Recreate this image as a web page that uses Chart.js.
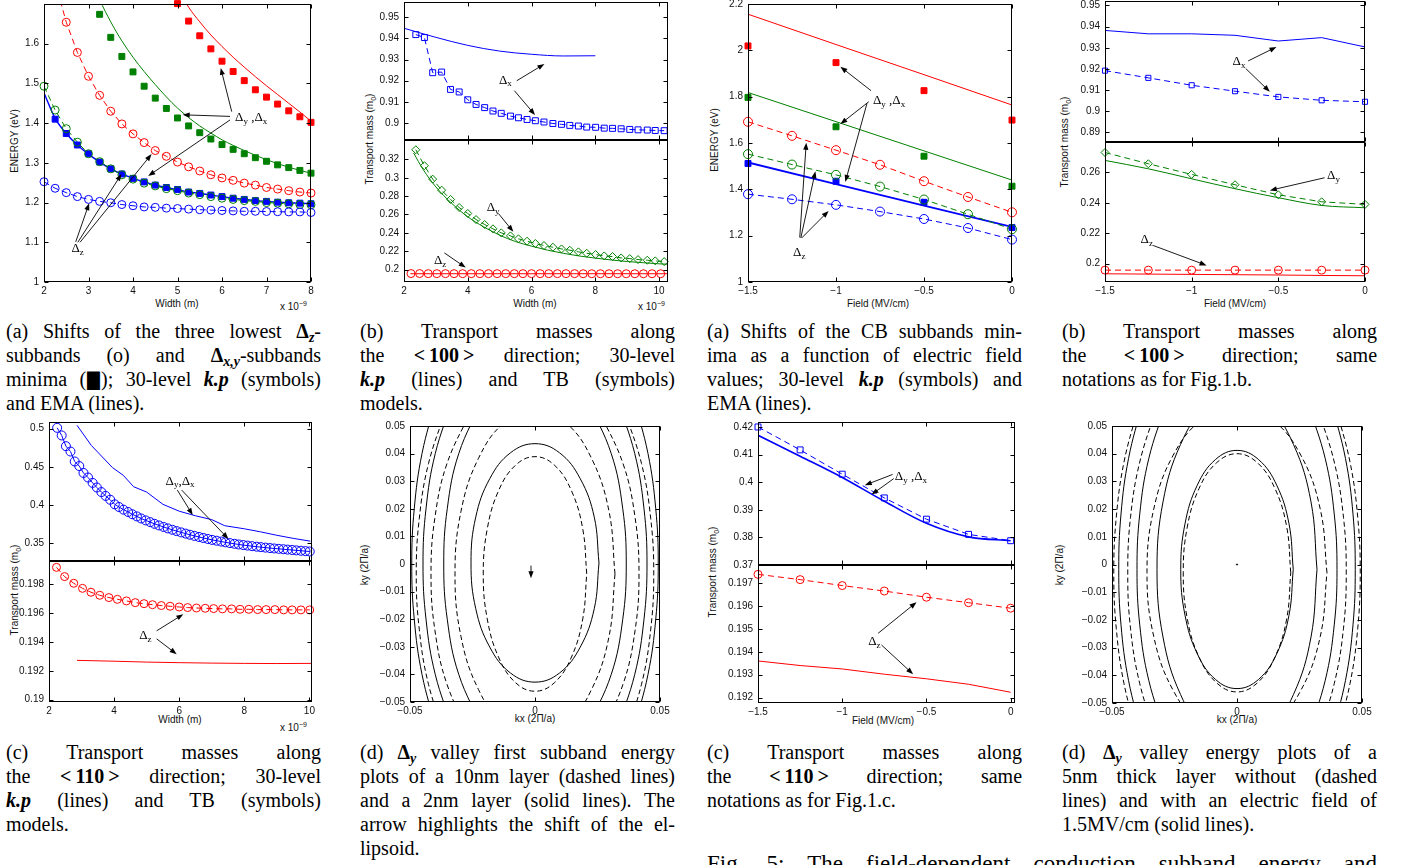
<!DOCTYPE html>
<html>
<head>
<meta charset="utf-8">
<script src="https://cdn.jsdelivr.net/npm/chart.js@4.4.1/dist/chart.umd.min.js"></script>
<style>
  html, body { margin: 0; padding: 0; background: #fff; }
  body { position: relative; width: 1403px; height: 865px; overflow: hidden; font-family: "Liberation Serif", "Times New Roman", serif; }
  canvas { position: absolute; }
  .ax { position: absolute; font: 10px "Liberation Sans", Arial, sans-serif; color: #111; white-space: nowrap; line-height: 1; }
  .ax.v { transform: translate(-50%, -50%) rotate(-90deg); }
  .ax.h { transform: translate(-50%, -50%); }
  .ax sub, .ax sup { font-size: 7px; line-height: 0; }
  .cap { position: absolute; width: 315px; font-size: 20px; line-height: 24px; color: #000; }
  .cap div { text-align: justify; text-align-last: justify; }
  .cap div.end { text-align-last: left; }
  .cap sub { font-size: 70%; line-height: 0; vertical-align: -0.3em; }
  .blk { font-family: "DejaVu Sans", sans-serif; display: inline-block; margin: 0 -2px; transform: scale(0.85, 1.2); }
</style>
</head>
<body>

<!-- axis titles -->
<div class="ax v" style="left:15px;top:141px">ENERGY (eV)</div>
<div class="ax h" style="left:177px;top:304px">Width (m)</div>
<div class="ax" style="left:280px;top:302px">x 10<sup>−9</sup></div>

<div class="ax v" style="left:370px;top:139px">Transport mass (m<sub>0</sub>)</div>
<div class="ax h" style="left:535px;top:304px">Width (m)</div>
<div class="ax" style="left:638px;top:302px">x 10<sup>−9</sup></div>

<div class="ax v" style="left:715px;top:140px">ENERGY (eV)</div>
<div class="ax h" style="left:878px;top:304px">Field (MV/cm)</div>

<div class="ax v" style="left:1065px;top:142px">Transport mass (m<sub>0</sub>)</div>
<div class="ax h" style="left:1235px;top:304px">Field (MV/cm)</div>

<div class="ax v" style="left:15px;top:590px">Transport mass (m<sub>0</sub>)</div>
<div class="ax h" style="left:180px;top:720px">Width (m)</div>
<div class="ax" style="left:280px;top:723px">x 10<sup>−9</sup></div>

<div class="ax v" style="left:365px;top:565px">ky (2Π/a)</div>
<div class="ax h" style="left:535px;top:719px">kx (2Π/a)</div>

<div class="ax v" style="left:713px;top:572px">Transport mass (m<sub>0</sub>)</div>
<div class="ax h" style="left:883px;top:721px">Field (MV/cm)</div>

<div class="ax v" style="left:1060px;top:565px">ky (2Π/a)</div>
<div class="ax h" style="left:1237px;top:720px">kx (2Π/a)</div>

<!-- captions -->
<div class="cap" style="left:6px;top:319px">
  <div>(a) Shifts of the three lowest <b>Δ<sub><i>z</i></sub></b>-</div>
  <div>subbands (o) and <b>Δ<sub><i>x,y</i></sub></b>-subbands</div>
  <div>minima (<span class="blk">■</span>); 30-level <b><i>k.p</i></b> (symbols)</div>
  <div class="end">and EMA (lines).</div>
</div>
<div class="cap" style="left:360px;top:319px">
  <div>(b) Transport masses along</div>
  <div>the <b>&lt;&#8239;100&#8239;&gt;</b> direction; 30-level</div>
  <div><b><i>k.p</i></b> (lines) and TB (symbols)</div>
  <div class="end">models.</div>
</div>
<div class="cap" style="left:707px;top:319px">
  <div>(a) Shifts of the CB subbands min-</div>
  <div>ima as a function of electric field</div>
  <div>values; 30-level <b><i>k.p</i></b> (symbols) and</div>
  <div class="end">EMA (lines).</div>
</div>
<div class="cap" style="left:1062px;top:319px">
  <div>(b) Transport masses along</div>
  <div>the <b>&lt;&#8239;100&#8239;&gt;</b> direction; same</div>
  <div class="end">notations as for Fig.1.b.</div>
</div>

<div class="cap" style="left:6px;top:740px">
  <div>(c) Transport masses along</div>
  <div>the <b>&lt;&#8239;110&#8239;&gt;</b> direction; 30-level</div>
  <div><b><i>k.p</i></b> (lines) and TB (symbols)</div>
  <div class="end">models.</div>
</div>
<div class="cap" style="left:360px;top:740px">
  <div>(d) <b>Δ<sub><i>y</i></sub></b> valley first subband energy</div>
  <div>plots of a 10nm layer (dashed lines)</div>
  <div>and a 2nm layer (solid lines). The</div>
  <div>arrow highlights the shift of the el-</div>
  <div class="end">lipsoid.</div>
</div>
<div class="cap" style="left:707px;top:740px">
  <div>(c) Transport masses along</div>
  <div>the <b>&lt;&#8239;110&#8239;&gt;</b> direction; same</div>
  <div class="end">notations as for Fig.1.c.</div>
</div>
<div class="cap" style="left:1062px;top:740px">
  <div>(d) <b>Δ<sub><i>y</i></sub></b> valley energy plots of a</div>
  <div>5nm thick layer without (dashed</div>
  <div>lines) and with an electric field of</div>
  <div class="end">1.5MV/cm (solid lines).</div>
</div>
<div class="cap" style="left:707px;top:852px;width:670px;font-size:23px">
  <div>Fig. 5: The field-dependent conduction subband energy and</div>
</div>

<script>
// ---- width sweep: subband minima (eV) ----
const widthA = [2, 2.25, 2.5, 2.75, 3, 3.25, 3.5, 3.75, 4, 4.25, 4.5, 4.75, 5, 5.25, 5.5, 5.75, 6, 6.25, 6.5, 6.75, 7, 7.25, 7.5, 7.75, 8];
const zBlue = [1.2525, 1.236, 1.225, 1.215, 1.208, 1.203, 1.1995, 1.195, 1.192, 1.189, 1.188, 1.186, 1.185, 1.1835, 1.182, 1.181, 1.18, 1.179, 1.178, 1.178, 1.1775, 1.177, 1.1765, 1.1765, 1.175];
const zGreen = [1.493, 1.433, 1.386, 1.352, 1.323, 1.303, 1.285, 1.27, 1.259, 1.249, 1.242, 1.235, 1.23, 1.224, 1.22, 1.215, 1.211, 1.208, 1.205, 1.203, 1.2, 1.1985, 1.197, 1.195, 1.1945];
const zRed = [1.654, 1.578, 1.518, 1.47, 1.43, 1.398, 1.373, 1.351, 1.331, 1.3165, 1.302, 1.29, 1.2795, 1.27, 1.262, 1.256, 1.249, 1.244, 1.238, 1.234, 1.23, 1.2265, 1.224];
const zRedEma = [1.757, 1.654, 1.578, 1.518, 1.47, 1.43, 1.398, 1.373, 1.351, 1.331, 1.3165, 1.302, 1.29, 1.2795, 1.27, 1.262, 1.256, 1.249, 1.244, 1.238, 1.234, 1.23, 1.2265, 1.224];
const xyBlue = [1.41, 1.374, 1.345, 1.323, 1.302, 1.285, 1.272, 1.261, 1.252, 1.244, 1.238, 1.233, 1.2265, 1.223, 1.219, 1.215, 1.211, 1.208, 1.205, 1.203, 1.201, 1.1995, 1.1985, 1.197];
const xyGreen = [1.674, 1.616, 1.568, 1.529, 1.493, 1.463, 1.437, 1.413, 1.393, 1.376, 1.36, 1.346, 1.334, 1.323, 1.313, 1.304, 1.295, 1.288, 1.281, 1.274];
const xyRed = [1.701, 1.657, 1.62, 1.587, 1.556, 1.53, 1.507, 1.484, 1.4655, 1.448, 1.431, 1.416, 1.402];
const xyBlueEma = [1.476, 1.412, 1.374, 1.345, 1.322, 1.302, 1.285, 1.272, 1.261, 1.252, 1.244, 1.238, 1.232, 1.227, 1.223, 1.219, 1.215, 1.211, 1.208, 1.205, 1.203, 1.201, 1.1995, 1.1985, 1.197];
const xyGreenEma = [1.79, 1.712, 1.655, 1.607, 1.566, 1.53, 1.497, 1.466, 1.438, 1.414, 1.393, 1.375, 1.358, 1.344, 1.331, 1.319, 1.308, 1.298, 1.289, 1.281, 1.274];
const xyRedEma = [1.742, 1.692, 1.655, 1.622, 1.593, 1.566, 1.541, 1.517, 1.494, 1.472, 1.45, 1.428, 1.405];

// ---- width sweep: masses along <100> ----
const tbWidth = [2.37, 2.64, 2.9, 3.18, 3.46, 3.73, 4.0, 4.26, 4.53, 4.79, 5.05, 5.34, 5.59, 5.86, 6.12, 6.39, 6.67, 6.94, 7.2, 7.47, 7.73, 8.01, 8.28, 8.54, 8.81, 9.08, 9.34, 9.63, 9.88, 10.16];
const tbMassX100 = [0.9418, 0.9404, 0.9238, 0.9241, 0.9159, 0.9147, 0.911, 0.9088, 0.9073, 0.9057, 0.9046, 0.9033, 0.9025, 0.9017, 0.9011, 0.9005, 0.8998, 0.8994, 0.8989, 0.8986, 0.8981, 0.898, 0.8976, 0.8975, 0.8973, 0.897, 0.8968, 0.8967, 0.8965, 0.8964];
const tbMassY100 = [0.3305, 0.3131, 0.2985, 0.2865, 0.2764, 0.2676, 0.2611, 0.2545, 0.2491, 0.2444, 0.24, 0.2367, 0.2335, 0.2309, 0.2284, 0.2262, 0.2244, 0.2225, 0.2211, 0.2193, 0.2178, 0.2164, 0.2149, 0.2142, 0.2127, 0.212, 0.2109, 0.2102, 0.2095, 0.2087];
const tbWidthZ = [2.22, 2.49, 2.76, 3.03, 3.3, 3.57, 3.84, 4.11, 4.38, 4.65, 4.92, 5.19, 5.46, 5.73, 6.0, 6.27, 6.54, 6.81, 7.08, 7.35, 7.62, 7.89, 8.16, 8.43, 8.7, 8.97, 9.24, 9.51, 9.78, 10.05];
const tbMassZ100 = [0.1957, 0.1957, 0.1956, 0.1956, 0.1956, 0.1956, 0.1956, 0.1956, 0.1956, 0.1956, 0.1956, 0.1956, 0.1956, 0.1956, 0.1956, 0.1956, 0.1956, 0.1956, 0.1956, 0.1956, 0.1955, 0.1955, 0.1955, 0.1955, 0.1955, 0.1955, 0.1955, 0.1955, 0.1955, 0.1955];
const kpWidthX = [2, 3, 4, 5, 6, 7, 8];
const kpMassX100 = [0.9448, 0.9405, 0.9367, 0.934, 0.9325, 0.9317, 0.9318];
const kpWidthY = [2.3, 2.6, 3, 3.5, 4, 4.5, 5, 5.5, 6, 6.5, 7, 7.5, 8, 8.5, 9, 9.5, 10, 10.28];
const kpMassY100 = [0.327, 0.309, 0.29, 0.272, 0.2575, 0.2465, 0.2375, 0.2305, 0.2255, 0.2212, 0.2177, 0.2148, 0.2125, 0.2105, 0.2088, 0.2075, 0.2063, 0.2058];
const kpWidthZ = [2.2, 10.28];
const kpMassZ100 = [0.1955, 0.1955];

// ---- field sweep: subband minima (eV) ----
const field = [-1.5, -1.25, -1, -0.75, -0.5, -0.25, 0];
const fieldHalf = [-1.5, -1, -0.5, 0];
const fzRed = [1.6916, 1.631, 1.569, 1.506, 1.435, 1.367, 1.301];
const fzGreen = [1.552, 1.507, 1.4625, 1.412, 1.356, 1.2925, 1.228];
const fzBlue = [1.379, 1.357, 1.333, 1.304, 1.272, 1.233, 1.183];
const fxyRed = [2.019, 1.947, 1.826, 1.699];
const fxyGreen = [1.797, 1.67, 1.543, 1.4135];
const fxyBlue = [1.5115, 1.435, 1.344, 1.235];
const fxyRedEma = [2.156, 2.025, 1.895, 1.764];
const fxyGreenEma = [1.818, 1.692, 1.566, 1.44];
const fxyBlueEma = [1.516, 1.423, 1.33, 1.238];

// ---- field sweep: masses along <100> ----
const fKpX100 = [0.9382, 0.9366, 0.9366, 0.9359, 0.9332, 0.9348, 0.9304];
const fTbX100 = [0.9192, 0.9158, 0.9123, 0.9095, 0.9068, 0.9052, 0.9045];
const fTbY100 = [0.2731, 0.2657, 0.2587, 0.2519, 0.2453, 0.2407, 0.239];
const fKpY100 = [0.2679, 0.2624, 0.2558, 0.2493, 0.2434, 0.2383, 0.2368];
const fTbZ100 = [0.1958, 0.1958, 0.1958, 0.1958, 0.1958, 0.1958, 0.1958];
const fKpZ100 = [0.1934, 0.1932, 0.193, 0.1928, 0.1926, 0.1923, 0.1921];

// ---- width sweep: masses along <110> ----
const tbWidth110 = [2.25, 2.39, 2.52, 2.66, 2.79, 2.93, 3.06, 3.2, 3.34, 3.47, 3.61, 3.74, 3.88, 4.02, 4.15, 4.29, 4.43, 4.56, 4.7, 4.83, 4.97, 5.11, 5.24, 5.38, 5.52, 5.65, 5.79, 5.92, 6.06, 6.2, 6.33, 6.47, 6.61, 6.74, 6.88, 7.01, 7.15, 7.29, 7.42, 7.56, 7.7, 7.83, 7.97, 8.1, 8.24, 8.38, 8.51, 8.65, 8.79, 8.92, 9.06, 9.2, 9.33, 9.47, 9.6, 9.74, 9.88, 10.01];
const tbMassXY110 = [0.501, 0.491, 0.477, 0.47, 0.457, 0.451, 0.442, 0.436, 0.429, 0.423, 0.417, 0.412, 0.407, 0.401, 0.3975, 0.394, 0.391, 0.388, 0.3852, 0.3825, 0.38, 0.3777, 0.3755, 0.3734, 0.3714, 0.3695, 0.3677, 0.366, 0.3643, 0.3627, 0.3612, 0.3597, 0.3583, 0.357, 0.3557, 0.3545, 0.3534, 0.3523, 0.3513, 0.3503, 0.3494, 0.3485, 0.3477, 0.347, 0.3463, 0.3456, 0.345, 0.3444, 0.3438, 0.3433, 0.3428, 0.3423, 0.3418, 0.3413, 0.3408, 0.3403, 0.3398, 0.3393];
const kpWidthXY110 = [2.86, 3.3, 3.95, 4.28, 4.6, 5.0, 5.5, 6.0, 6.5, 7.0, 7.4, 8.0, 8.5, 9.0, 9.5, 10.03];
const kpMassXY110 = [0.5043, 0.478, 0.449, 0.439, 0.424, 0.417, 0.401, 0.392, 0.386, 0.381, 0.373, 0.369, 0.365, 0.3605, 0.3565, 0.3528];
const tbWidthZ110 = [2.23, 2.48, 2.76, 3.03, 3.29, 3.56, 3.84, 4.1, 4.38, 4.65, 4.92, 5.18, 5.45, 5.72, 6.0, 6.26, 6.53, 6.8, 7.06, 7.33, 7.61, 7.87, 8.14, 8.41, 8.67, 8.94, 9.21, 9.47, 9.74, 10.01];
const tbMassZ110 = [0.19915, 0.19851, 0.19805, 0.1977, 0.19743, 0.19722, 0.19706, 0.19694, 0.19683, 0.19671, 0.19664, 0.19657, 0.19651, 0.19646, 0.19641, 0.19637, 0.19634, 0.19632, 0.1963, 0.19628, 0.19628, 0.19625, 0.19625, 0.19623, 0.19623, 0.19623, 0.19621, 0.19621, 0.19621, 0.19621];
const kpWidthZ110 = [2.86, 4, 5, 6, 7, 8, 9, 10.05];
const kpMassZ110 = [0.19272, 0.19266, 0.1926, 0.19256, 0.19253, 0.19251, 0.1925, 0.19251];

// ---- field sweep: masses along <110> ----
const fTbXY110 = [0.42, 0.4117, 0.4029, 0.3943, 0.3866, 0.3811, 0.3788];
const fKpXY110 = [0.417, 0.4094, 0.4017, 0.3931, 0.3851, 0.3802, 0.3788];
const fTbZ110 = [0.19739, 0.19716, 0.1969, 0.19666, 0.19639, 0.19615, 0.19591];
const fKpZ110 = [0.1936, 0.1934, 0.19325, 0.19302, 0.19282, 0.19258, 0.19223];

// ---- constant-energy contours, 10nm (dashed) vs 2nm (solid) ----
const kyLev2nm = [-0.06, -0.04, -0.02, 0, 0.02, 0.04, 0.06];
const kyLev10nm = [-0.0636, -0.0436, -0.0236, -0.0036, 0.0164, 0.0364, 0.0564];
const ring2nm = [[0.0256, 0.0004], [0.0237, 0.017], [0.0181, 0.0309], [0.0098, 0.0403], [0, 0.0436], [-0.0098, 0.0403], [-0.0181, 0.0309], [-0.0237, 0.017], [-0.0256, 0.0004], [-0.0237, -0.0162], [-0.0181, -0.0301], [-0.0098, -0.0395], [0, -0.0428], [0.0098, -0.0395], [0.0181, -0.0301], [0.0237, -0.0162], [0.0256, 0.0004]];
const ring10nm = [[0.0207, -0.0036], [0.0191, 0.0127], [0.0146, 0.0265], [0.0079, 0.0357], [0, 0.0389], [-0.0079, 0.0357], [-0.0146, 0.0265], [-0.0191, 0.0127], [-0.0207, -0.0036], [-0.0191, -0.0199], [-0.0146, -0.0337], [-0.0079, -0.0429], [0, -0.0461], [0.0079, -0.0429], [0.0146, -0.0337], [0.0191, -0.0199], [0.0207, -0.0036]];
const ring10nmB = [[0.032, -0.0036], [0.0296, 0.0191], [0.0226, 0.0383], [0.0123, 0.0512], [0, 0.0557], [-0.0123, 0.0512], [-0.0226, 0.0383], [-0.0296, 0.0191], [-0.032, -0.0036], [-0.0296, -0.0263], [-0.0226, -0.0455], [-0.0123, -0.0584], [0, -0.0629], [0.0123, -0.0584], [0.0226, -0.0455], [0.0296, -0.0263], [0.032, -0.0036]];
const arcs2nm = [
  [0.0206, 0.0305, 0.0351, 0.0365, 0.0351, 0.0305, 0.0206],
  [0.0327, 0.0399, 0.0436, 0.0448, 0.0436, 0.0399, 0.0327],
  [0.0394, 0.0452, 0.0483, 0.0493, 0.0483, 0.0452, 0.0394]
];
const arcs10nm = [
  [0.025, 0.0352, 0.0401, 0.0416, 0.0401, 0.0352, 0.025],
  [0.0354, 0.0426, 0.0463, 0.0475, 0.0463, 0.0426, 0.0354]
];

// ---- constant-energy contours, 5nm without (dashed) / with field (solid) ----
const kyLevField = [-0.0618, -0.0418, -0.0218, -0.0018, 0.0182, 0.0382, 0.0582];
const kyLevFree = [-0.063, -0.043, -0.023, -0.003, 0.017, 0.037, 0.057];
const ringField = [[0.0225, -0.0018], [0.0208, 0.0147], [0.0159, 0.0286], [0.0086, 0.0379], [0, 0.0412], [-0.0086, 0.0379], [-0.0159, 0.0286], [-0.0208, 0.0147], [-0.0225, -0.0018], [-0.0208, -0.0183], [-0.0159, -0.0322], [-0.0086, -0.0415], [0, -0.0448], [0.0086, -0.0415], [0.0159, -0.0322], [0.0208, -0.0183], [0.0225, -0.0018]];
const ringFieldB = [[0.032, -0.0018], [0.0296, 0.0226], [0.0226, 0.0433], [0.0123, 0.0572], [0, 0.062], [-0.0123, 0.0572], [-0.0226, 0.0433], [-0.0296, 0.0226], [-0.032, -0.0018], [-0.0296, -0.0262], [-0.0226, -0.0469], [-0.0123, -0.0608], [0, -0.0656], [0.0123, -0.0608], [0.0226, -0.0469], [0.0296, -0.0262], [0.032, -0.0018]];
const ringFree = [[0.0215, -0.003], [0.0199, 0.0135], [0.0152, 0.0274], [0.0082, 0.0367], [0, 0.04], [-0.0082, 0.0367], [-0.0152, 0.0274], [-0.0199, 0.0135], [-0.0215, -0.003], [-0.0199, -0.0195], [-0.0152, -0.0334], [-0.0082, -0.0427], [0, -0.046], [0.0082, -0.0427], [0.0152, -0.0334], [0.0199, -0.0195], [0.0215, -0.003]];
const ringFreeB = [[0.036, -0.003], [0.0333, 0.02], [0.0255, 0.0395], [0.0138, 0.0525], [0, 0.0571], [-0.0138, 0.0525], [-0.0255, 0.0395], [-0.0333, 0.02], [-0.036, -0.003], [-0.0333, -0.026], [-0.0255, -0.0455], [-0.0138, -0.0585], [0, -0.0631], [0.0138, -0.0585], [0.0255, -0.0455], [0.0333, -0.026], [0.036, -0.003]];
const arcsField = [
  [0.0283, 0.0353, 0.0389, 0.04, 0.0389, 0.0353, 0.0283],
  [0.0378, 0.0434, 0.0464, 0.0473, 0.0464, 0.0434, 0.0378]
];
const arcsFree = [
  [0.032, 0.0389, 0.0426, 0.0437, 0.0426, 0.0389, 0.032],
  [0.0394, 0.0452, 0.0483, 0.0493, 0.0483, 0.0452, 0.0394]
];

// ---- tick values and labels ----
const M = '\u2212';
const widthTicks8 = [2, 3, 4, 5, 6, 7, 8];
const widthTicks10 = [2, 4, 6, 8, 10];
const fieldTicks = [-1.5, -1, -0.5, 0];
const fieldLabels = [M + '1.5', M + '1', M + '0.5', '0'];
const energyTicksW = [1, 1.1, 1.2, 1.3, 1.4, 1.5, 1.6];
const energyTicksF = [1, 1.2, 1.4, 1.6, 1.8, 2, 2.2];
const massTicksHeavy = [0.9, 0.91, 0.92, 0.93, 0.94, 0.95];
const massTicksLightW = [0.2, 0.22, 0.24, 0.26, 0.28, 0.3, 0.32];
const massTicksHeavyF = [0.89, 0.9, 0.91, 0.92, 0.93, 0.94, 0.95];
const massTicksLightF = [0.2, 0.22, 0.24, 0.26];
const massTicks110 = [0.35, 0.4, 0.45, 0.5];
const massTicksZ110 = [0.19, 0.192, 0.194, 0.196, 0.198];
const massTicks110F = [0.37, 0.38, 0.39, 0.4, 0.41, 0.42];
const massTicksZ110F = [0.192, 0.193, 0.194, 0.195, 0.196, 0.197];
const kTicksX = [-0.05, 0, 0.05];
const kLabelsX = [M + '0.05', '0', '0.05'];
const kTicksY = [-0.05, -0.04, -0.03, -0.02, -0.01, 0, 0.01, 0.02, 0.03, 0.04, 0.05];
const kLabelsY = [M + '0.05', M + '0.04', M + '0.03', M + '0.02', M + '0.01', '0', '0.01', '0.02', '0.03', '0.04', '0.05'];

const SANS = '"Liberation Sans", Arial, Helvetica, sans-serif';
const SERIF = '"Liberation Serif", "Times New Roman", serif';
const BLUE = '#0000ff', GREEN = '#008000', RED = '#ff0000', INK = '#000';
const DASH = [6, 4];
const KDASH = [5, 3];

const pts = (xs, ys) => xs.map((x, i) => ({ x, y: ys[i] }));
const pairs = list => list.map(([x, y]) => ({ x, y }));
const lbl = ticks => ticks.map(v => (v < 0 ? M : '') + String(Math.abs(v)));

function curve(data, color, opt = {}) {
  return { data, showLine: true, borderColor: color, borderWidth: 1, pointRadius: 0, tension: 0, ...opt };
}
function symbols(data, color, style, r, filled) {
  return {
    data, showLine: false, pointStyle: style, pointRadius: r,
    pointBorderColor: color, pointBackgroundColor: filled ? color : 'rgba(0,0,0,0)',
    pointBorderWidth: 1, clip: false
  };
}
function contours(rings, arcs, levels, dash) {
  const sets = rings.map(r => curve(pairs(r), INK, { tension: 0.4, borderDash: dash }));
  for (const xs of arcs) {
    sets.push(curve(xs.map((x, i) => ({ x, y: levels[i] })), INK, { tension: 0.4, borderDash: dash }));
    sets.push(curve(xs.map((x, i) => ({ x: -x, y: levels[i] })), INK, { tension: 0.4, borderDash: dash }));
  }
  return sets;
}

// box outline with inward ticks on all four sides
const frame = {
  id: 'frame',
  afterDatasetsDraw(chart) {
    const { ctx, chartArea: a, scales: { x, y } } = chart;
    const L = Math.round(a.left) + 0.5, R = Math.round(a.right) - 0.5;
    const T = Math.round(a.top) + 0.5, B = Math.round(a.bottom) - 0.5;
    ctx.save();
    ctx.strokeStyle = '#000';
    ctx.lineWidth = 1;
    ctx.beginPath();
    for (const t of x.ticks) {
      const p = Math.round(x.getPixelForValue(t.value)) + 0.5;
      ctx.moveTo(p, B); ctx.lineTo(p, B - 4);
      ctx.moveTo(p, T); ctx.lineTo(p, T + 4);
    }
    for (const t of y.ticks) {
      const p = Math.round(y.getPixelForValue(t.value)) + 0.5;
      ctx.moveTo(L, p); ctx.lineTo(L + 4, p);
      ctx.moveTo(R, p); ctx.lineTo(R - 4, p);
    }
    ctx.stroke();
    ctx.strokeRect(L, T, R - L, B - T);
    ctx.restore();
  }
};

function arrow(ctx, x1, y1, x2, y2) {
  const ang = Math.atan2(y2 - y1, x2 - x1), len = 7, half = 2.6;
  const c = Math.cos(ang), s = Math.sin(ang);
  ctx.beginPath();
  ctx.moveTo(x1, y1);
  ctx.lineTo(x2 - len * 0.8 * c, y2 - len * 0.8 * s);
  ctx.stroke();
  ctx.beginPath();
  ctx.moveTo(x2, y2);
  ctx.lineTo(x2 - len * c + half * s, y2 - len * s - half * c);
  ctx.lineTo(x2 - len * c - half * s, y2 - len * s + half * c);
  ctx.closePath();
  ctx.fill();
}

// text with "_c" meaning subscript c
function rich(ctx, text, px, py) {
  let cx = px;
  for (let i = 0; i < text.length; i++) {
    let ch = text[i], sub = false;
    if (ch === '_') { sub = true; ch = text[++i]; }
    ctx.font = (sub ? '9px ' : '13px ') + SERIF;
    ctx.fillText(ch, cx, py + (sub ? 4 : 0));
    cx += ctx.measureText(ch).width;
  }
}

const notes = {
  id: 'notes',
  afterDraw(chart, args, opts) {
    const { ctx, scales: { x, y } } = chart;
    ctx.save();
    ctx.fillStyle = ctx.strokeStyle = '#000';
    ctx.lineWidth = 0.9;
    for (const [x1, y1, x2, y2] of (opts.arrows || [])) {
      arrow(ctx, x.getPixelForValue(x1), y.getPixelForValue(y1), x.getPixelForValue(x2), y.getPixelForValue(y2));
    }
    ctx.textBaseline = 'middle';
    for (const n of (opts.labels || [])) rich(ctx, n.text, x.getPixelForValue(n.x), y.getPixelForValue(n.y));
    ctx.restore();
  }
};

Chart.register(frame, notes);

function axis(spec, size, horizontal) {
  return {
    type: 'linear', min: spec.min, max: spec.max,
    grid: { display: false, drawTicks: false },
    border: { display: false },
    ticks: {
      display: spec.show !== false, autoSkip: false, maxRotation: 0, minRotation: 0,
      padding: horizontal ? 3 : 5, color: '#111', font: { family: SANS, size: 10 },
      callback: (v, i) => spec.labels[i]
    },
    afterBuildTicks: s => { s.ticks = spec.ticks.map(value => ({ value })); },
    afterFit: s => {
      if (horizontal) s.height = size; else s.width = size;
      s.paddingLeft = s.paddingRight = s.paddingTop = s.paddingBottom = 0;
    }
  };
}

// box = [left, top, right, bottom] of the plot area, pad = room for ticks around it
function plot(box, pad, xs, ys, datasets, extra = {}) {
  const [l, t, r, b] = box;
  const w = r - l + pad[0] + pad[2], h = b - t + pad[1] + pad[3];
  const cv = document.createElement('canvas');
  cv.width = w; cv.height = h;
  Object.assign(cv.style, { left: (l - pad[0]) + 'px', top: (t - pad[1]) + 'px', width: w + 'px', height: h + 'px' });
  document.body.appendChild(cv);
  return new Chart(cv, {
    type: 'scatter',
    data: { datasets },
    options: {
      responsive: false, animation: false, devicePixelRatio: 1, events: [],
      layout: { autoPadding: false, padding: { left: 0, top: pad[1], right: pad[2], bottom: 0 } },
      plugins: { legend: { display: false }, tooltip: { enabled: false }, notes: extra },
      scales: { x: axis(xs, pad[3], true), y: axis(ys, pad[0], false) }
    }
  });
}

const FULL = [42, 6, 14, 22], UPPER = [42, 6, 14, 3], LOWER = [42, 3, 14, 22];

// energy vs width
plot([44, 4, 311, 282], FULL,
  { min: 2, max: 8, ticks: widthTicks8, labels: lbl(widthTicks8) },
  { min: 1, max: 1.7, ticks: energyTicksW, labels: lbl(energyTicksW) },
  [
    symbols(pts(widthA, zBlue), BLUE, 'circle', 4),
    symbols(pts(widthA, zGreen), GREEN, 'circle', 4),
    symbols(pts(widthA.slice(2), zRed), RED, 'circle', 4),
    symbols(pts(widthA.slice(1), xyBlue), BLUE, 'rect', 4.2, true),
    symbols(pts(widthA.slice(5), xyGreen), GREEN, 'rect', 4.2, true),
    symbols(pts(widthA.slice(12), xyRed), RED, 'rect', 4.2, true),
    curve(pts(widthA, zBlue), BLUE, { borderDash: DASH }),
    curve(pts(widthA, zGreen), GREEN, { borderDash: DASH }),
    curve(pts(widthA.slice(1), zRedEma), RED, { borderDash: DASH }),
    curve(pts(widthA, xyBlueEma), BLUE, { cubicInterpolationMode: 'monotone', borderWidth: 1.4 }),
    curve(pts(widthA.slice(4), xyGreenEma), GREEN, { cubicInterpolationMode: 'monotone' }),
    curve(pts(widthA.slice(12), xyRedEma), RED, { cubicInterpolationMode: 'monotone' })
  ],
  {
    labels: [{ x: 6.294, y: 1.415, text: 'Δ_y ,Δ_x' }, { x: 2.616, y: 1.084, text: 'Δ_z' }],
    arrows: [[6.219, 1.429, 5.971, 1.539], [6.18, 1.417, 5.116, 1.421], [6.18, 1.408, 4.342, 1.267],
             [2.713, 1.101, 3.014, 1.198], [2.76, 1.1, 3.742, 1.272], [2.81, 1.1, 4.417, 1.322]]
  });

// masses along <100> vs width
plot([404, 2, 668, 140], UPPER,
  { min: 2, max: 10.28, ticks: widthTicks10, labels: lbl(widthTicks10), show: false },
  { min: 0.892, max: 0.9572, ticks: massTicksHeavy, labels: lbl(massTicksHeavy) },
  [
    symbols(pts(tbWidth, tbMassX100), BLUE, 'rect', 4.2),
    curve(pts(tbWidth, tbMassX100), BLUE, { borderDash: DASH }),
    curve(pts(kpWidthX, kpMassX100), BLUE, { cubicInterpolationMode: 'monotone' })
  ],
  {
    labels: [{ x: 4.98, y: 0.9203, text: 'Δ_x' }],
    arrows: [[5.536, 0.92, 6.404, 0.9279], [5.462, 0.9153, 6.111, 0.9038]]
  });
plot([404, 140, 668, 282], LOWER,
  { min: 2, max: 10.28, ticks: widthTicks10, labels: lbl(widthTicks10) },
  { min: 0.1865, max: 0.3411, ticks: massTicksLightW, labels: lbl(massTicksLightW) },
  [
    symbols(pts(tbWidth, tbMassY100), GREEN, 'rectRot', 4),
    symbols(pts(tbWidthZ, tbMassZ100), RED, 'circle', 4),
    curve(pts(tbWidth, tbMassY100), GREEN, { borderDash: DASH }),
    curve(pts(kpWidthY, kpMassY100), GREEN, { cubicInterpolationMode: 'monotone' }),
    curve(pts(kpWidthZ, kpMassZ100), RED)
  ],
  {
    labels: [{ x: 4.594, y: 0.2676, text: 'Δ_y' }, { x: 2.94, y: 0.2102, text: 'Δ_z' }],
    arrows: [[4.96, 0.2611, 5.431, 0.2411], [3.266, 0.2182, 3.935, 0.2022]]
  });

// energy vs field
plot([748, 4, 1012, 282], FULL,
  { min: -1.5, max: 0, ticks: fieldTicks, labels: fieldLabels },
  { min: 1, max: 2.2, ticks: energyTicksF, labels: lbl(energyTicksF) },
  [
    symbols(pts(field, fzRed), RED, 'circle', 4.5),
    symbols(pts(field, fzGreen), GREEN, 'circle', 4.5),
    symbols(pts(field, fzBlue), BLUE, 'circle', 4.5),
    symbols(pts(fieldHalf, fxyRed), RED, 'rect', 4.2, true),
    symbols(pts(fieldHalf, fxyGreen), GREEN, 'rect', 4.2, true),
    symbols(pts(fieldHalf, fxyBlue), BLUE, 'rect', 4.2, true),
    curve(pts(field, fzRed), RED, { borderDash: DASH }),
    curve(pts(field, fzGreen), GREEN, { borderDash: DASH }),
    curve(pts(field, fzBlue), BLUE, { borderDash: DASH }),
    curve(pts(fieldHalf, fxyRedEma), RED),
    curve(pts(fieldHalf, fxyGreenEma), GREEN),
    curve(pts(fieldHalf, fxyBlueEma), BLUE, { borderWidth: 1.8 })
  ],
  {
    labels: [{ x: -0.79, y: 1.785, text: 'Δ_y ,Δ_x' }, { x: -1.244, y: 1.125, text: 'Δ_z' }],
    arrows: [[-0.801, 1.826, -0.975, 1.929], [-0.814, 1.778, -0.975, 1.682], [-0.824, 1.771, -0.947, 1.432],
             [-1.206, 1.192, -1.169, 1.601], [-1.2, 1.19, -1.117, 1.478], [-1.195, 1.19, -1.042, 1.307]]
  });

// masses along <100> vs field
plot([1105, 1, 1365, 142], UPPER,
  { min: -1.5, max: 0, ticks: fieldTicks, labels: fieldLabels, show: false },
  { min: 0.8855, max: 0.9521, ticks: massTicksHeavyF, labels: lbl(massTicksHeavyF) },
  [
    symbols(pts(field, fTbX100), BLUE, 'rect', 3.6),
    curve(pts(field, fTbX100), BLUE, { borderDash: DASH }),
    curve(pts(field, fKpX100), BLUE)
  ],
  {
    labels: [{ x: -0.764, y: 0.9233, text: 'Δ_x' }],
    arrows: [[-0.674, 0.9238, -0.511, 0.9304], [-0.688, 0.9202, -0.549, 0.9092]]
  });
plot([1105, 142, 1365, 282], LOWER,
  { min: -1.5, max: 0, ticks: fieldTicks, labels: fieldLabels },
  { min: 0.188, max: 0.28, ticks: massTicksLightF, labels: lbl(massTicksLightF) },
  [
    symbols(pts(field, fTbY100), GREEN, 'rectRot', 4),
    symbols(pts(field, fTbZ100), RED, 'circle', 4),
    curve(pts(field, fTbY100), GREEN, { borderDash: DASH }),
    curve(pts(field, fKpY100), GREEN, { cubicInterpolationMode: 'monotone' }),
    curve(pts(field, fTbZ100), RED, { borderDash: DASH }),
    curve(pts(field, fKpZ100), RED)
  ],
  {
    labels: [{ x: -0.219, y: 0.258, text: 'Δ_y' }, { x: -1.295, y: 0.2158, text: 'Δ_z' }],
    arrows: [[-0.233, 0.2565, -0.549, 0.2482], [-1.222, 0.212, -0.914, 0.1989]]
  });

// masses along <110> vs width
plot([49, 422, 312, 561], UPPER,
  { min: 2, max: 10.08, ticks: widthTicks10, labels: lbl(widthTicks10), show: false },
  { min: 0.3269, max: 0.5086, ticks: massTicks110, labels: lbl(massTicks110) },
  [
    symbols(pts(tbWidth110, tbMassXY110), BLUE, 'circle', 4.5),
    curve(pts(tbWidth110, tbMassXY110), BLUE),
    curve(pts(kpWidthXY110, kpMassXY110), BLUE)
  ],
  {
    labels: [{ x: 5.583, y: 0.4313, text: 'Δ_y,Δ_x' }],
    arrows: [[5.943, 0.4196, 6.415, 0.387], [6.076, 0.4196, 7.513, 0.3557]]
  });
plot([49, 561, 312, 702], LOWER,
  { min: 2, max: 10.08, ticks: widthTicks10, labels: lbl(widthTicks10) },
  { min: 0.18984, max: 0.19959, ticks: massTicksZ110, labels: lbl(massTicksZ110) },
  [
    symbols(pts(tbWidthZ110, tbMassZ110), RED, 'circle', 4),
    curve(pts(tbWidthZ110, tbMassZ110), RED, { borderDash: DASH }),
    curve(pts(kpWidthZ110, kpMassZ110), RED, { cubicInterpolationMode: 'monotone' })
  ],
  {
    labels: [{ x: 4.772, y: 0.19444, text: 'Δ_z' }],
    arrows: [[5.306, 0.19476, 6.127, 0.19591], [5.306, 0.19421, 5.922, 0.19315]]
  });

// contours: 10nm (dashed) and 2nm (solid)
plot([410, 426, 660, 702], FULL,
  { min: -0.05, max: 0.05, ticks: kTicksX, labels: kLabelsX },
  { min: -0.05, max: 0.05, ticks: kTicksY, labels: kLabelsY },
  [
    ...contours([ring2nm], arcs2nm, kyLev2nm, []),
    ...contours([ring10nm, ring10nmB], arcs10nm, kyLev10nm, KDASH)
  ],
  { arrows: [[-0.0016, -0.0006, -0.0016, -0.0052]] });

// masses along <110> vs field
plot([758, 422, 1015, 565], UPPER,
  { min: -1.5, max: 0.0257, ticks: fieldTicks, labels: fieldLabels, show: false },
  { min: 0.37, max: 0.4218, ticks: massTicks110F, labels: lbl(massTicks110F) },
  [
    symbols(pts(field, fTbXY110), BLUE, 'rect', 4.2),
    curve(pts(field, fTbXY110), BLUE, { borderDash: DASH }),
    curve(pts(field, fKpXY110), BLUE, { borderWidth: 1.6, cubicInterpolationMode: 'monotone' })
  ],
  {
    labels: [{ x: -0.688, y: 0.4019, text: 'Δ_y ,Δ_x' }],
    arrows: [[-0.701, 0.4028, -0.866, 0.3989], [-0.694, 0.4013, -0.826, 0.3955]]
  });
plot([758, 565, 1015, 703], LOWER,
  { min: -1.5, max: 0.0257, ticks: fieldTicks, labels: fieldLabels },
  { min: 0.19176, max: 0.1978, ticks: massTicksZ110F, labels: lbl(massTicksZ110F) },
  [
    symbols(pts(field, fTbZ110), RED, 'circle', 4),
    curve(pts(field, fTbZ110), RED, { borderDash: DASH }),
    curve(pts(field, fKpZ110), RED)
  ],
  {
    labels: [{ x: -0.846, y: 0.19445, text: 'Δ_z' }],
    arrows: [[-0.787, 0.19481, -0.559, 0.19617], [-0.767, 0.1943, -0.579, 0.19302]]
  });

// contours: 5nm layer without (dashed) and with field (solid)
plot([1112, 426, 1362, 703], FULL,
  { min: -0.05, max: 0.05, ticks: kTicksX, labels: kLabelsX },
  { min: -0.05, max: 0.05, ticks: kTicksY, labels: kLabelsY },
  [
    ...contours([ringField, ringFieldB], arcsField, kyLevField, []),
    ...contours([ringFree, ringFreeB], arcsFree, kyLevFree, KDASH),
    symbols([{ x: 0, y: 0 }], INK, 'circle', 0.6, true)
  ]);
</script>
</body>
</html>
